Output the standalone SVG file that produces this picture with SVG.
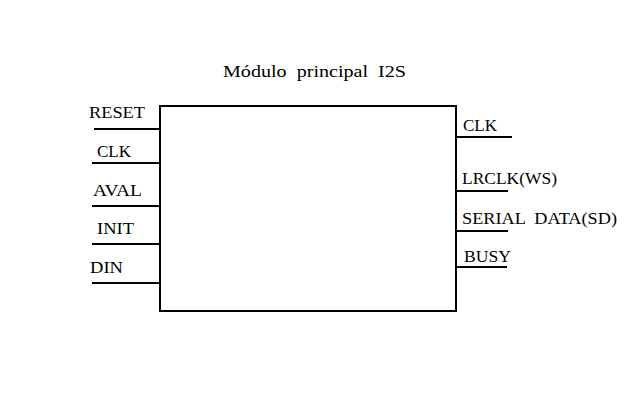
<svg xmlns="http://www.w3.org/2000/svg" width="630" height="408" viewBox="0 0 630 408">
<style>
text{font-family:"Liberation Serif","Times New Roman",serif;font-size:17px;fill:#000}
.w{stroke:#000;stroke-width:2;fill:none}
</style>
<rect width="630" height="408" fill="#fff"/>
<text x="223" y="77" textLength="183" lengthAdjust="spacingAndGlyphs" xml:space="preserve">Módulo  principal  I2S</text>
<g id="main">
<rect class="w" x="160" y="106" width="296" height="205"/>
</g>
<g id="connectors">
<line class="w" x1="94" y1="129" x2="160" y2="129"/>
<line class="w" x1="92" y1="163" x2="160" y2="163"/>
<line class="w" x1="92" y1="206" x2="160" y2="206"/>
<line class="w" x1="92" y1="244" x2="160" y2="244"/>
<line class="w" x1="92" y1="283" x2="160" y2="283"/>
<line class="w" x1="456" y1="137" x2="512" y2="137"/>
<line class="w" x1="456" y1="191" x2="508" y2="191"/>
<line class="w" x1="456" y1="231" x2="508" y2="231"/>
<line class="w" x1="456" y1="267" x2="507" y2="267"/>
</g>
<g id="inputs">
<text x="89" y="118" textLength="56" lengthAdjust="spacingAndGlyphs">RESET</text>
<text x="97" y="157" textLength="34" lengthAdjust="spacingAndGlyphs">CLK</text>
<text x="93" y="196" textLength="49" lengthAdjust="spacingAndGlyphs">AVAL</text>
<text x="97" y="234" textLength="37" lengthAdjust="spacingAndGlyphs">INIT</text>
<text x="90" y="273" textLength="33" lengthAdjust="spacingAndGlyphs">DIN</text>
</g>
<g id="outputs">
<text x="463" y="131" textLength="34" lengthAdjust="spacingAndGlyphs">CLK</text>
<text x="462" y="184" textLength="95" lengthAdjust="spacingAndGlyphs">LRCLK(WS)</text>
<text x="462" y="224" textLength="155" lengthAdjust="spacingAndGlyphs" xml:space="preserve">SERIAL  DATA(SD)</text>
<text x="464" y="262" textLength="47" lengthAdjust="spacingAndGlyphs">BUSY</text>
</g>
</svg>
